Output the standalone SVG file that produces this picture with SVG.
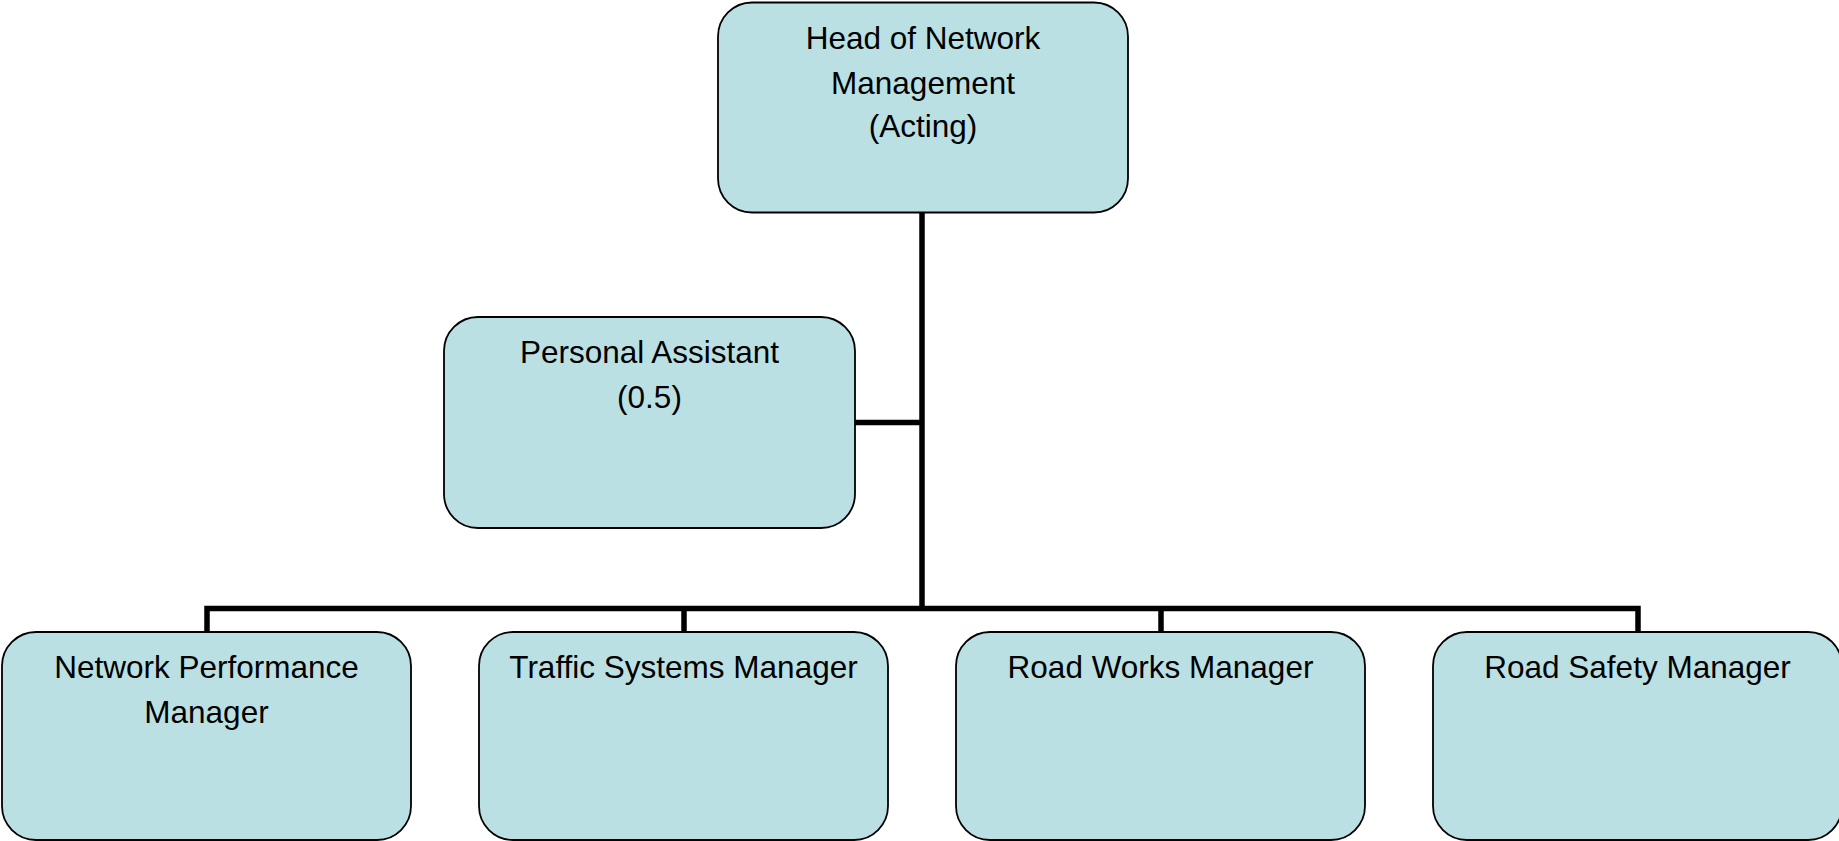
<svg xmlns="http://www.w3.org/2000/svg" width="1839" height="841" viewBox="0 0 1839 841">
<style>
.box{fill:#BBE0E3;stroke:#000;stroke-width:1.8}
.t{font-family:"Liberation Sans",Arial,sans-serif;font-size:31.5px;fill:#000;text-anchor:middle}
.c{fill:none;stroke:#000;stroke-width:5.5;stroke-linecap:butt}
</style>
<rect width="1839" height="841" fill="#fff"/>
<g id="connectors">
<path class="c" d="M922 212 V611"/>
<path class="c" d="M855 422.5 H922"/>
<path class="c" d="M207 632 V608.5 H1638 V632"/>
<path class="c" d="M684 608.5 V632"/>
<path class="c" d="M1161 608.5 V632"/>
</g>
<g id="head">
<rect class="box" x="718" y="2.5" width="410" height="210" rx="34"/>
<text class="t" x="923" y="49">Head of Network</text>
<text class="t" x="923" y="93.5">Management</text>
<text class="t" x="923" y="137">(Acting)</text>
</g>
<g id="pa">
<rect class="box" x="444" y="317" width="411" height="211" rx="34"/>
<text class="t" x="649.5" y="363">Personal Assistant</text>
<text class="t" x="649.5" y="408">(0.5)</text>
</g>
<g id="npm">
<rect class="box" x="2" y="632" width="409" height="208" rx="34"/>
<text class="t" x="206.5" y="678">Network Performance</text>
<text class="t" x="206.5" y="723">Manager</text>
</g>
<g id="tsm">
<rect class="box" x="479" y="632" width="409" height="208" rx="34"/>
<text class="t" x="683.5" y="678">Traffic Systems Manager</text>
</g>
<g id="rwm">
<rect class="box" x="956" y="632" width="409" height="208" rx="34"/>
<text class="t" x="1160.5" y="678">Road Works Manager</text>
</g>
<g id="rsm">
<rect class="box" x="1433" y="632" width="409" height="208" rx="34"/>
<text class="t" x="1637.5" y="678">Road Safety Manager</text>
</g>
</svg>
